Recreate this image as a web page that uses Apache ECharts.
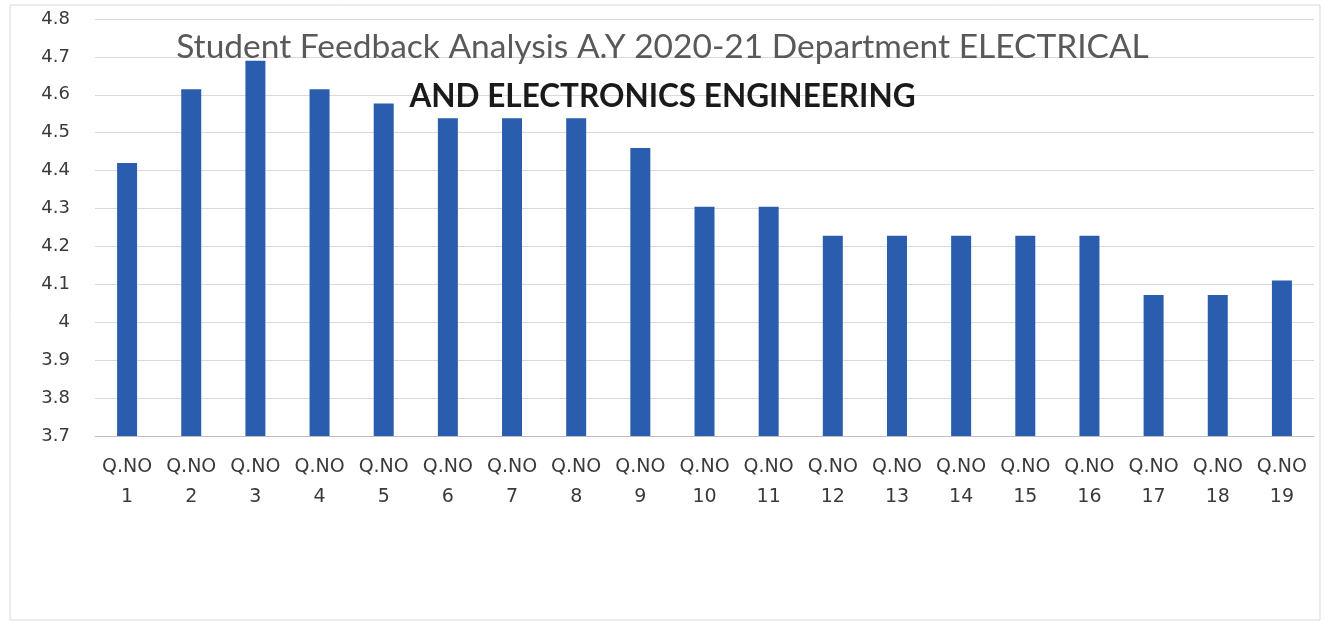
<!DOCTYPE html>
<html>
<head>
<meta charset="utf-8">
<script src="https://cdn.jsdelivr.net/npm/echarts@6/dist/echarts.min.js"></script>
<style>html,body{margin:0;padding:0;background:#fff;}#c{width:1325px;height:625px;}</style>
</head>
<body>
<div id="c"></div>
<script>
const categories = ["Q.NO 1","Q.NO 2","Q.NO 3","Q.NO 4","Q.NO 5","Q.NO 6","Q.NO 7","Q.NO 8","Q.NO 9","Q.NO 10","Q.NO 11","Q.NO 12","Q.NO 13","Q.NO 14","Q.NO 15","Q.NO 16","Q.NO 17","Q.NO 18","Q.NO 19"];
const scores = [4.42, 4.615, 4.69, 4.615, 4.577, 4.538, 4.538, 4.538, 4.46, 4.305, 4.305, 4.228, 4.228, 4.228, 4.228, 4.228, 4.072, 4.072, 4.11];
const titleLine1 = "Student Feedback Analysis A.Y 2020-21 Department ELECTRICAL";
const titleLine2 = "AND ELECTRONICS ENGINEERING";

const chart = echarts.init(document.getElementById('c'));
chart.setOption({
  backgroundColor: '#fff',
  animation: false,
  title: [
    { text: titleLine1, left: 'center', top: 25, z: 10,
      textStyle: { fontFamily: 'Lato', fontSize: 33.5, fontWeight: 'normal', color: '#595959' } },
    { text: titleLine2, left: 'center', top: 76, z: 10,
      textStyle: { fontFamily: 'Lato', fontSize: 31.5, fontWeight: 'bold', color: '#1a1a1a' } }
  ],
  graphic: [{ type: 'rect', shape: { x: 10, y: 5, width: 1310, height: 615 }, style: { fill: 'none', stroke: '#d9d9d9', lineWidth: 1 }, silent: true, z: -1 }],
  grid: { left: 95, right: 11, top: 19, bottom: 189, containLabel: false },
  xAxis: {
    type: 'category', data: categories,
    axisLine: { lineStyle: { color: '#bfbfbf', width: 1 } },
    axisTick: { show: false },
    axisLabel: { interval: 0, margin: 16, color: '#3a3a3a', fontFamily: 'DejaVu Sans', fontSize: 19, lineHeight: 30,
      formatter: v => v.replace(' ', '\n') }
  },
  yAxis: {
    type: 'value', min: 3.7, max: 4.8, interval: 0.1,
    axisLine: { show: false }, axisTick: { show: false },
    axisLabel: { margin: 25, color: '#3a3a3a', fontFamily: 'DejaVu Sans', fontSize: 18,
      formatter: v => String(Math.round(v * 10) / 10) },
    splitLine: { lineStyle: { color: '#d9d9d9', width: 1 } }
  },
  series: [{
    type: 'bar', data: scores, barWidth: 20,
    itemStyle: { color: '#2B5DAE' }
  }]
});
</script>
</body>
</html>
